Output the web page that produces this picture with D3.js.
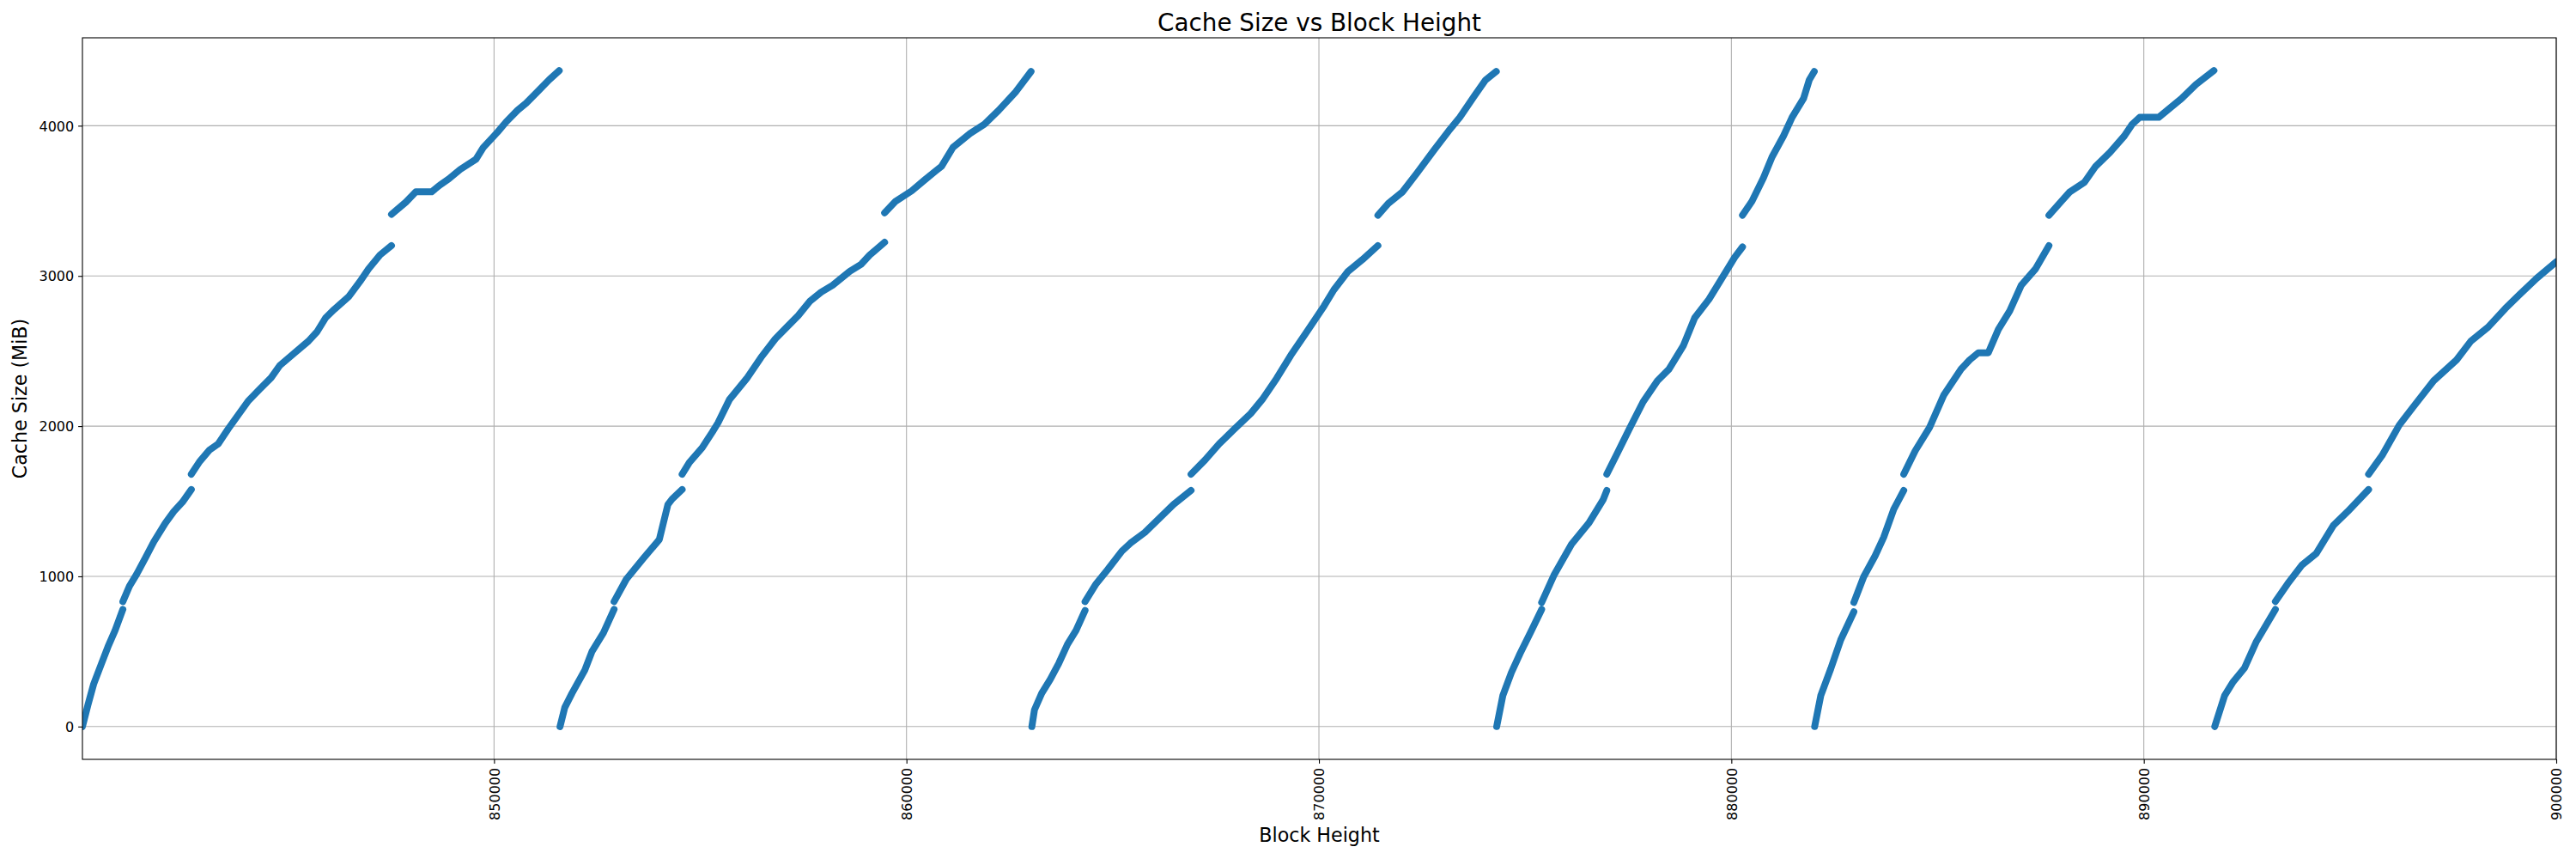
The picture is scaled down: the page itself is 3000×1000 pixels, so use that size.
<!DOCTYPE html>
<html>
<head>
<meta charset="utf-8">
<script src="https://cdn.jsdelivr.net/npm/d3@7"></script>
<style>
  body { margin: 0; background: #fff; }
  text { font-family: "DejaVu Sans", sans-serif; fill: #000; }
</style>
</head>
<body>
<svg class="chart"></svg>
<script>
// Cache size, one pair of arrays per fill cycle.
// null marks a jump in the cache size (the points don't touch there).
var blocks1 = [840020, 840153, 840292, 840465, 840639, 840812, 841000, null,
    841000, 841160, 841333, 841542, 841750, 842028, 842236, 842444, 842660, null,
    842660, 842861, 843104, 843312, 843555, 843764, 844041, 844319, 844597, 844805, 845153, 845500, 845708, 845916, 846125, 846472, 846750, 846958, 847236, 847514, null,
    847514, 847861, 848104, 848486, 848694, 848903, 849180, 849562, 849736, 850083, 850292, 850569, 850778, 851056, 851333, 851580];
var mib1 = [0, 143, 283, 407, 531, 640, 780, null,
    832, 935, 1013, 1121, 1230, 1354, 1432, 1494, 1578, null,
    1680, 1764, 1842, 1882, 1982, 2062, 2168, 2246, 2323, 2404, 2485, 2566, 2628, 2721, 2777, 2861, 2963, 3047, 3140, 3202, null,
    3410, 3491, 3560, 3560, 3606, 3646, 3709, 3777, 3854, 3957, 4025, 4103, 4150, 4227, 4305, 4367];

var blocks2 = [851600, 851715, 851889, 852201, 852375, 852653, 852910, null,
    852910, 853208, 853625, 854007, 854215, 854319, 854560, null,
    854560, 854736, 855048, 855291, 855430, 855708, 856125, 856472, 856819, 857097, 857375, 857653, 857930, 858208, 858625, 858903, 859111, 859470, null,
    859470, 859736, 860125, 860431, 860708, 860850, 861125, 861542, 861889, 862236, 862653, 863020];
var mib2 = [0, 127, 221, 376, 500, 624, 780, null,
    832, 981, 1121, 1245, 1478, 1515, 1578, null,
    1680, 1758, 1857, 1960, 2022, 2177, 2317, 2457, 2581, 2659, 2736, 2830, 2892, 2938, 3031, 3078, 3140, 3224, null,
    3420, 3497, 3566, 3637, 3699, 3730, 3855, 3948, 4010, 4103, 4227, 4361];

var blocks3 = [863040, 863104, 863278, 863486, 863694, 863903, 864111, 864330, null,
    864330, 864597, 864875, 865222, 865430, 865778, 866125, 866472, 866900, null,
    866900, 867236, 867583, 867930, 868347, 868625, 868972, 869319, 869667, 870125, 870361, 870708, 871056, 871430, null,
    871430, 871681, 872028, 872375, 872792, 873139, 873417, 873764, 874041, 874300];
var mib3 = [0, 112, 221, 314, 422, 547, 640, 773, null,
    832, 950, 1044, 1168, 1221, 1292, 1385, 1478, 1572, null,
    1680, 1774, 1882, 1975, 2084, 2177, 2317, 2472, 2612, 2800, 2907, 3031, 3109, 3202, null,
    3404, 3482, 3560, 3684, 3839, 3963, 4056, 4196, 4305, 4361];

var blocks4 = [874310, 874458, 874667, 874875, 875153, 875400, null,
    875400, 875708, 876125, 876542, 876889, 876980, null,
    876980, 877236, 877514, 877861, 878208, 878486, 878833, 879111, 879458, 879736, 880083, 880270, null,
    880270, 880500, 880778, 880986, 881264, 881472, 881750, 881889, 882010];
var mib4 = [0, 205, 360, 485, 640, 780, null,
    826, 1013, 1214, 1354, 1509, 1572, null,
    1680, 1820, 1975, 2162, 2302, 2379, 2534, 2721, 2845, 2969, 3125, 3193, null,
    3404, 3497, 3653, 3792, 3932, 4056, 4181, 4305, 4361];

var blocks5 = [882020, 882167, 882410, 882653, 882970, null,
    882970, 883208, 883486, 883694, 883937, 884180, null,
    884180, 884458, 884805, 885153, 885569, 885778, 885986, 886229, 886472, 886750, 887028, 887375, 887700, null,
    887700, 888000, 888208, 888556, 888833, 889180, 889528, 889720, 889900, 890361, 890569, 890917, 891264, 891700];
var mib5 = [0, 205, 385, 578, 764, null,
    826, 997, 1137, 1261, 1447, 1572, null,
    1680, 1836, 1991, 2208, 2379, 2441, 2488, 2488, 2643, 2767, 2938, 3047, 3202, null,
    3404, 3497, 3560, 3622, 3730, 3823, 3932, 4010, 4056, 4056, 4103, 4181, 4274, 4367];

var blocks6 = [891720, 891958, 892167, 892444, 892722, 893190, null,
    893190, 893486, 893833, 894180, 894597, 894944, 895450, null,
    895450, 895778, 896194, 896542, 897028, 897583, 897930, 898347, 898764, 899111, 899528, 900000];
var mib6 = [0, 205, 298, 391, 562, 780, null,
    832, 950, 1075, 1152, 1339, 1432, 1578, null,
    1680, 1805, 2007, 2131, 2302, 2441, 2566, 2659, 2783, 2876, 2985, 3094];

var xTicks = [850000, 860000, 870000, 880000, 890000, 900000];
var yTicks = [0, 1000, 2000, 3000, 4000];
var xMax = 900000;

// Graphic margins and dimensions
var width = 3000;
var height = 1000;
var margin = {top: 44, right: 23, bottom: 116, left: 96};
var w = width - margin.left - margin.right;
var h = height - margin.top - margin.bottom;

var cycles = [[blocks1, mib1], [blocks2, mib2], [blocks3, mib3],
              [blocks4, mib4], [blocks5, mib5], [blocks6, mib6]];

var allMib = d3.merge([mib1, mib2, mib3, mib4, mib5, mib6]).filter(function(v) { return v !== null; });
var yMin = d3.min(allMib), yMaxVal = d3.max(allMib);
var yPad = (yMaxVal - yMin) * 0.05;

var x = d3.scaleLinear()
    .domain([d3.min(blocks1.filter(function(v) { return v !== null; })), xMax])
    .range([0, w]);

var y = d3.scaleLinear()
    .domain([yMin - yPad, yMaxVal + yPad])
    .range([h, 0]);

var svg = d3.select(".chart")
    .attr("width", width)
    .attr("height", height);

var chart = svg.append("g")
    .attr("transform", "translate(" + margin.left + "," + margin.top + ")");

chart.append("defs").append("clipPath")
    .attr("id", "plotclip")
    .append("rect")
    .attr("width", w)
    .attr("height", h);

// grid lines
chart.append("g")
    .selectAll("line.vgrid")
    .data(xTicks)
    .enter().append("line")
    .attr("x1", function(d) { return x(d); })
    .attr("x2", function(d) { return x(d); })
    .attr("y1", 0)
    .attr("y2", h)
    .style("stroke", "#b0b0b0")
    .style("stroke-width", 1.1);

chart.append("g")
    .selectAll("line.hgrid")
    .data(yTicks)
    .enter().append("line")
    .attr("x1", 0)
    .attr("x2", w)
    .attr("y1", function(d) { return y(d); })
    .attr("y2", function(d) { return y(d); })
    .style("stroke", "#b0b0b0")
    .style("stroke-width", 1.1);

// the cache points, dense enough to read as a thick trace
var line = d3.line()
    .defined(function(d) { return d[1] !== null; })
    .x(function(d) { return x(d[0]); })
    .y(function(d) { return y(d[1]); });

chart.append("g")
    .attr("clip-path", "url(#plotclip)")
    .selectAll("path")
    .data(cycles)
    .enter().append("path")
    .attr("d", function(c) { return line(d3.zip(c[0], c[1])); })
    .style("fill", "none")
    .style("stroke", "#1f77b4")
    .style("stroke-width", 8)
    .style("stroke-linecap", "round")
    .style("stroke-linejoin", "round");

// axes
var xAxis = d3.axisBottom(x)
    .tickValues(xTicks)
    .tickFormat(d3.format("d"))
    .tickSize(4.9)
    .tickPadding(4.9);

var yAxis = d3.axisLeft(y)
    .tickValues(yTicks)
    .tickFormat(d3.format("d"))
    .tickSize(4.9)
    .tickPadding(4.9);

var gx = chart.append("g")
    .attr("transform", "translate(0," + h + ")")
    .call(xAxis);
gx.select(".domain").remove();
gx.selectAll("line").style("stroke", "#000").style("stroke-width", 1.1);
gx.selectAll("text")
    .style("font-size", "16px")
    .attr("text-anchor", "end")
    .attr("transform", "rotate(-90)")
    .attr("x", -9.8)
    .attr("y", 0)
    .attr("dy", "0.36em");

var gy = chart.append("g").call(yAxis);
gy.select(".domain").remove();
gy.selectAll("line").style("stroke", "#000").style("stroke-width", 1.1);
gy.selectAll("text")
    .style("font-size", "16px")
    .attr("dy", "0.36em");

// frame
chart.append("rect")
    .attr("width", w)
    .attr("height", h)
    .style("fill", "none")
    .style("stroke", "#000")
    .style("stroke-width", 1.1);

// title and labels
svg.append("text")
    .attr("x", margin.left + w / 2)
    .attr("y", 36)
    .attr("text-anchor", "middle")
    .style("font-size", "27.8px")
    .text("Cache Size vs Block Height");

svg.append("text")
    .attr("x", margin.left + w / 2)
    .attr("y", 980)
    .attr("text-anchor", "middle")
    .style("font-size", "22.2px")
    .text("Block Height");

svg.append("text")
    .attr("transform", "translate(31," + (margin.top + h / 2) + ") rotate(-90)")
    .attr("text-anchor", "middle")
    .style("font-size", "22.2px")
    .text("Cache Size (MiB)");
</script>
</body>
</html>
